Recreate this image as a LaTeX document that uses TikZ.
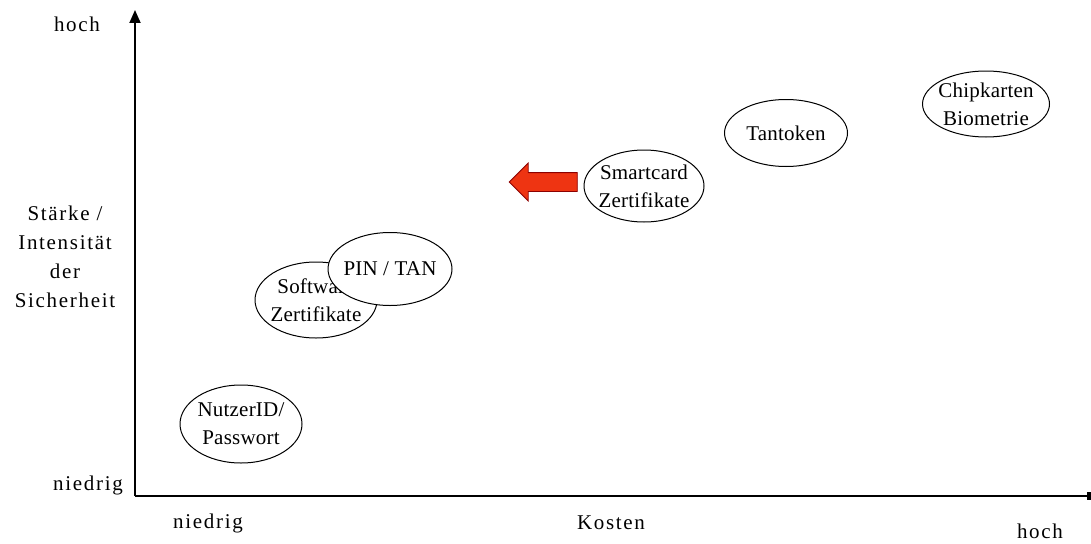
\documentclass[tikz,border=0pt]{standalone}
\usepackage{fontspec}
\setmainfont{Liberation Serif}[LetterSpace=8]
\usepackage{xcolor}
\usetikzlibrary{arrows.meta, shapes.geometric, shapes.arrows}

\definecolor{pfeilrot}{RGB}{238,52,18}

\begin{document}
\begin{tikzpicture}[
    x=1pt, y=-1pt,
    font=\fontsize{21}{29}\selectfont,
    feld/.style={ellipse, draw, fill=white, line width=1pt, inner xsep=-3pt,
                 inner ysep=0pt, align=center,
                 font=\fontsize{21}{28}\selectfont\addfontfeature{LetterSpace=1}},
    achse/.style={line width=1.8pt},
    beschr/.style={align=center, inner sep=0pt},
    pfeil/.style={single arrow, shape border rotate=180, draw=red!55!black,
                  fill=pfeilrot, line width=0.8pt, inner xsep=0pt,
                  inner ysep=9pt, minimum height=68pt,
                  single arrow head extend=9.5pt}
  ]
  \useasboundingbox (0,0) rectangle (1091,543);

  % --- Achsen ---
  \coordinate (o) at (135,496);
  \coordinate (yend) at (135,10);
  \coordinate (xend) at (1093,496);
  \draw[achse, -{Triangle[length=13pt,width=11pt]}] (o) -- (yend);
  \draw[achse, -{Square[length=6pt,width=8pt]}] (o) -- (xend);

  % --- Beschriftung ---
  \node[beschr] (hochY) at (77,24) {hoch};
  \node[beschr] (staerke) at (65,257) {St\"arke /\\Intensit\"at\\der\\Sicherheit};
  \node[beschr] (niedrigY) at (88,485) {niedrig};
  \node[beschr] (niedrigX) at (208,523) {niedrig};
  \node[beschr] (kosten) at (611,523) {Kosten};
  \node[beschr] (hochX) at (1040,531) {hoch};

  % --- Verfahren ---
  \node[feld, minimum width=122pt, minimum height=78pt] (nutzer) at (241,424)
       {NutzerID/\\Passwort};
  \node[feld, minimum width=122pt, minimum height=76pt] (software) at (316,300)
       {Software\\Zertifikate};
  \node[feld, minimum width=124pt, minimum height=73pt] (pin) at (390,269)
       {PIN / TAN};
  \node[feld, minimum width=120pt, minimum height=72pt] (smart) at (644,186)
       {Smartcard\\Zertifikate};
  \node[feld, minimum width=123pt, minimum height=67pt] (tan) at (786,133)
       {Tantoken};
  \node[feld, minimum width=127pt, minimum height=66pt] (chip) at (986,104)
       {Chipkarten\\Biometrie};

  % --- Pfeil ---
  \node[pfeil] (trend) at (548,182) {};

\end{tikzpicture}
\end{document}
